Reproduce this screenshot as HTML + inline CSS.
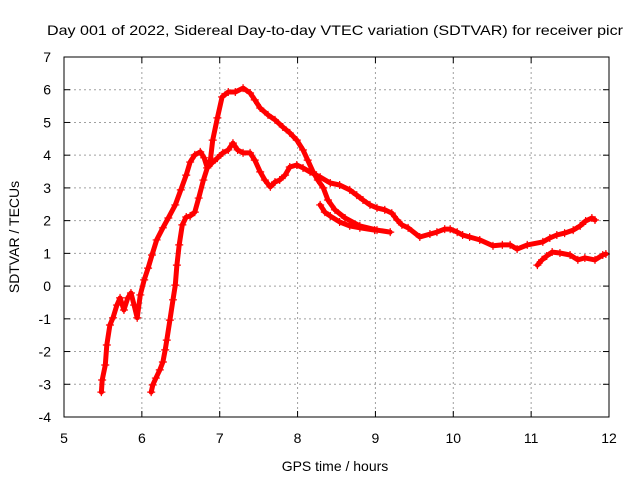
<!DOCTYPE html>
<html><head><meta charset="utf-8"><style>
html,body{margin:0;padding:0;background:#fff}
svg{display:block;font-family:"Liberation Sans",sans-serif}
</style></head><body>
<svg id="chart" width="640" height="480" viewBox="0 0 640 480" xmlns="http://www.w3.org/2000/svg">
<rect width="640" height="480" fill="#fff"/>
<text x="47" y="35" font-size="14" fill="#000" textLength="576" lengthAdjust="spacingAndGlyphs">Day 001 of 2022, Sidereal Day-to-day VTEC variation (SDTVAR) for receiver picr</text>
<g id="grid"></g>
<g id="ticks"></g>
<g id="series"></g>
<rect x="64" y="57" width="545" height="360" fill="none" stroke="#000" stroke-width="1"/>
<text x="335" y="471" font-size="14" text-anchor="middle">GPS time / hours</text>
<text transform="translate(19,237) rotate(-90)" font-size="14" text-anchor="middle">SDTVAR / TECUs</text>
</svg>
<script>
const xTicks = [5,6,7,8,9,10,11,12];
const yTicks = [-4,-3,-2,-1,0,1,2,3,4,5,6,7];
const t1x = [5.48,5.49,5.53,5.55,5.59,5.63,5.68,5.72,5.77,5.82,5.86,5.90,5.94,5.98,6.03,6.08,6.13,6.19,6.27,6.34,6.43,6.50,6.57,6.62,6.68,6.75,6.80,6.84,6.88,6.91,6.97,7.03,7.11,7.20,7.30,7.39,7.45,7.52,7.62,7.71,7.81,7.90,7.99,8.07,8.13,8.20,8.26,8.33,8.39,8.48,8.61,8.80,9.02,9.19];
const t1y = [-3.24,-2.87,-2.41,-1.80,-1.19,-0.97,-0.58,-0.36,-0.73,-0.36,-0.21,-0.58,-0.97,-0.27,0.19,0.55,0.95,1.41,1.78,2.08,2.48,2.94,3.39,3.79,4.01,4.10,3.92,3.61,3.85,4.46,5.14,5.78,5.93,5.93,6.05,5.90,5.69,5.44,5.23,5.08,4.86,4.68,4.46,4.16,3.85,3.49,3.24,3.00,2.63,2.33,2.08,1.84,1.71,1.65];
const t2x = [6.12,6.14,6.18,6.23,6.27,6.30,6.32,6.36,6.40,6.43,6.45,6.48,6.52,6.57,6.62,6.68,6.73,6.79,6.84,6.90,6.97,7.04,7.11,7.17,7.23,7.30,7.39,7.45,7.52,7.58,7.65,7.71,7.77,7.84,7.90,7.99,8.07,8.16,8.29,8.42,8.54,8.67,8.76,8.84,8.93,9.02,9.12,9.21,9.28,9.34,9.42,9.57,9.70,9.79,9.89,9.96,10.05,10.12,10.21,10.34,10.51,10.63,10.73,10.82,10.95,11.15,11.24,11.33,11.43,11.54,11.63,11.70,11.78,11.82];
const t2y = [-3.24,-3.02,-2.81,-2.56,-2.32,-1.95,-1.65,-1.04,-0.42,0.03,0.64,1.26,1.87,2.11,2.14,2.26,2.69,3.24,3.61,3.76,3.91,4.07,4.16,4.37,4.16,4.07,4.07,3.85,3.49,3.24,3.03,3.18,3.24,3.39,3.64,3.70,3.61,3.49,3.33,3.15,3.09,2.94,2.78,2.63,2.48,2.39,2.33,2.23,2.02,1.87,1.78,1.50,1.59,1.65,1.74,1.74,1.65,1.56,1.50,1.41,1.23,1.26,1.26,1.13,1.26,1.35,1.47,1.56,1.62,1.71,1.84,1.99,2.08,2.02];
const t3x = [8.29,8.35,8.42,8.54,8.67,8.80,8.99];
const t3y = [2.48,2.26,2.14,1.96,1.84,1.78,1.71];
const t4x = [11.08,11.14,11.20,11.27,11.37,11.50,11.60,11.69,11.82,11.92,11.96];
const t4y = [0.64,0.80,0.92,1.04,1.01,0.95,0.80,0.86,0.80,0.95,0.98];

const X0=64,X1=609,Y0=417,Y1=57,xmin=5,xmax=12,ymin=-4,ymax=7;
function sx(v){return X0+(v-xmin)/(xmax-xmin)*(X1-X0);}
function sy(v){return Y0-(v-ymin)/(ymax-ymin)*(Y0-Y1);}
const NS="http://www.w3.org/2000/svg";
function mk(tag,attrs,parent){const e=document.createElementNS(NS,tag);for(const k in attrs)e.setAttribute(k,attrs[k]);parent.appendChild(e);return e;}
const grid=document.getElementById('grid'),ticks=document.getElementById('ticks'),series=document.getElementById('series');

xTicks.forEach(v=>{
  const x=sx(v);
  if(v>xmin&&v<xmax){
    const g=mk('line',{x1:x,x2:x,y1:Y1,y2:Y0,stroke:'#a0a0a0','stroke-dasharray':'2,3'},grid);
    
    
  }
  mk('line',{x1:x,x2:x,y1:Y0,y2:Y0-6,stroke:'#000'},ticks);
  mk('line',{x1:x,x2:x,y1:Y1,y2:Y1+6,stroke:'#000'},ticks);
  const t=mk('text',{x:x,y:443,'font-size':14,'text-anchor':'middle'},ticks);
  t.textContent=v;
  
  
});
yTicks.forEach(v=>{
  const y=sy(v);
  if(v>ymin&&v<ymax){
    const g=mk('line',{x1:X0,x2:X1,y1:y,y2:y,stroke:'#a0a0a0','stroke-dasharray':'2,3'},grid);
    
    
  }
  mk('line',{x1:X0,x2:X0+6,y1:y,y2:y,stroke:'#000'},ticks);
  mk('line',{x1:X1,x2:X1-6,y1:y,y2:y,stroke:'#000'},ticks);
  const t=mk('text',{x:51,y:y+5,'font-size':14,'text-anchor':'end'},ticks);
  t.textContent=v;
  
  
});

function drawTrace(xs,ys,name){
  const g=mk('g',{},series);
  
  
  const pts=xs.map((v,i)=>sx(v).toFixed(1)+','+sy(ys[i]).toFixed(1)).join(' ');
  mk('polyline',{points:pts,fill:'none',stroke:'#ff0000','stroke-width':5,'stroke-linejoin':'round','stroke-linecap':'round'},g);
  xs.forEach((v,i)=>{
    const px=sx(v),py=sy(ys[i]);
    const p=mk('path',{d:`M${px-4},${py}h8M${px},${py-4}v8`,stroke:'#ff0000','stroke-width':1.2},g);
    
    
  });
}
drawTrace(t1x,t1y,'trace-1');
drawTrace(t2x,t2y,'trace-2');
drawTrace(t3x,t3y,'trace-3');
drawTrace(t4x,t4y,'trace-4');
</script>
</body></html>
